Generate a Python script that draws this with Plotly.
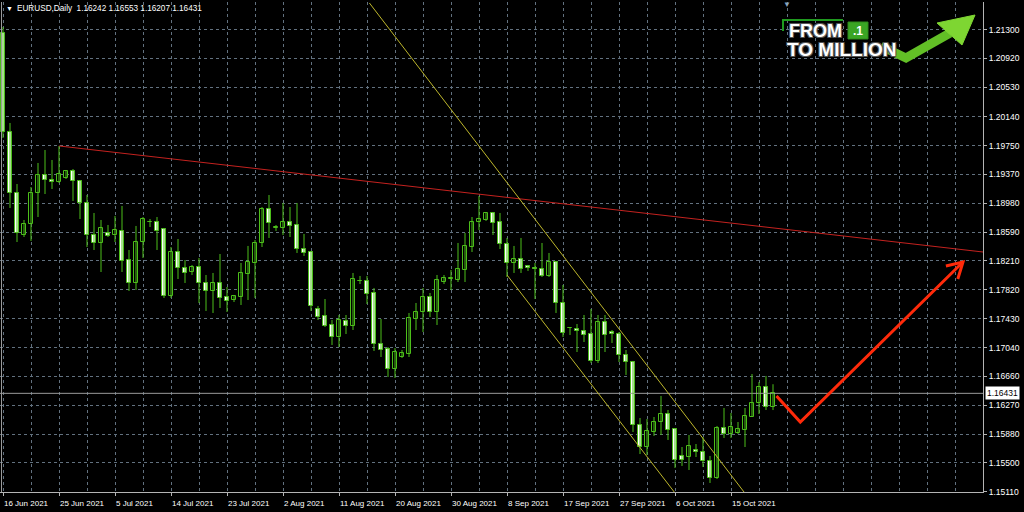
import plotly.graph_objects as go

# ---------------- data (EURUSD, Daily) ----------------
date_labels = ["16 Jun 2021", "25 Jun 2021", "5 Jul 2021", "14 Jul 2021", "23 Jul 2021",
               "2 Aug 2021", "11 Aug 2021", "20 Aug 2021", "30 Aug 2021", "8 Sep 2021",
               "17 Sep 2021", "27 Sep 2021", "6 Oct 2021", "15 Oct 2021"]
date_label_bars = [0, 8, 16, 24, 32, 40, 48, 56, 64, 72, 80, 88, 96, 104]

price_ticks = [1.21300, 1.20920, 1.20530, 1.20140, 1.19750, 1.19370, 1.18980, 1.18590,
               1.18210, 1.17820, 1.17430, 1.17040, 1.16660, 1.16270, 1.15880, 1.15500, 1.15110]

opens = [1.21260, 1.19933, 1.19116, 1.18553, 1.18700, 1.19116, 1.19357, 1.19290, 1.19263, 1.19317,
         1.19411, 1.19277, 1.18982, 1.18553, 1.18446, 1.18580, 1.18553, 1.18607, 1.18218, 1.17910,
         1.18459, 1.18727, 1.18727, 1.18633, 1.17736, 1.18325, 1.18111, 1.18057, 1.18124, 1.17910,
         1.17803, 1.17910, 1.17722, 1.17682, 1.17722, 1.18030, 1.18178, 1.18446, 1.18901, 1.18647,
         1.18647, 1.18727, 1.18687, 1.18365, 1.18325, 1.17561, 1.17468, 1.17347, 1.17186, 1.17401,
         1.17334, 1.17937, 1.17937, 1.17776, 1.17092, 1.17025, 1.16757, 1.16918, 1.16958, 1.17427,
         1.17521, 1.17722, 1.17521, 1.17923, 1.17963, 1.17950, 1.18084, 1.18392, 1.18727, 1.18754,
         1.18848, 1.18727, 1.18432, 1.18178, 1.18231, 1.18138, 1.18111, 1.18097, 1.18004, 1.18191,
         1.17642, 1.17307, 1.17293, 1.17267, 1.17226, 1.16865, 1.17387, 1.17253, 1.17226, 1.16945,
         1.16851, 1.16007, 1.15712, 1.15913, 1.16047, 1.16154, 1.15953, 1.15592, 1.15578, 1.15672,
         1.15645, 1.15525, 1.15297, 1.15967, 1.15886, 1.15900, 1.15940, 1.16114, 1.16302, 1.16516,
         1.16242]
highs = [1.21340, 1.20054, 1.19236, 1.18754, 1.19196, 1.19518, 1.19692, 1.19558, 1.19746, 1.19424,
         1.19437, 1.19290, 1.19089, 1.18848, 1.18754, 1.18687, 1.18808, 1.18942, 1.18352, 1.18674,
         1.18794, 1.18767, 1.18794, 1.18647, 1.18392, 1.18499, 1.18218, 1.18151, 1.18245, 1.18017,
         1.18044, 1.18298, 1.17856, 1.17749, 1.18178, 1.18406, 1.18486, 1.18928, 1.19089, 1.18687,
         1.18982, 1.18928, 1.18982, 1.18566, 1.18339, 1.17602, 1.17695, 1.17414, 1.17481, 1.17481,
         1.18044, 1.18004, 1.18004, 1.17843, 1.17427, 1.17052, 1.17039, 1.17012, 1.17508, 1.17642,
         1.17843, 1.17776, 1.18017, 1.18017, 1.18084, 1.18446, 1.18580, 1.18794, 1.19076, 1.18861,
         1.18861, 1.18848, 1.18513, 1.18406, 1.18513, 1.18140, 1.18178, 1.18446, 1.18312, 1.18205,
         1.17883, 1.17320, 1.17360, 1.17481, 1.17561, 1.17481, 1.17481, 1.17280, 1.17253, 1.17012,
         1.16865, 1.16101, 1.16087, 1.16114, 1.16396, 1.16208, 1.15967, 1.15712, 1.15873, 1.15752,
         1.15846, 1.15592, 1.15994, 1.16235, 1.16168, 1.16047, 1.16235, 1.16690, 1.16583, 1.16664,
         1.16553]
lows = [1.19853, 1.18915, 1.18459, 1.18526, 1.18473, 1.18794, 1.19102, 1.19169, 1.19250, 1.19303,
        1.19009, 1.18767, 1.18392, 1.18352, 1.18057, 1.18526, 1.18459, 1.18057, 1.17803, 1.17816,
        1.18245, 1.18660, 1.18352, 1.17709, 1.17709, 1.17963, 1.17910, 1.18017, 1.17642, 1.17535,
        1.17508, 1.17575, 1.17521, 1.17655, 1.17615, 1.17682, 1.17709, 1.18392, 1.18513, 1.18607,
        1.18553, 1.18526, 1.18312, 1.18272, 1.17535, 1.17414, 1.17320, 1.17079, 1.17052, 1.17226,
        1.17280, 1.17896, 1.17628, 1.16999, 1.16918, 1.16650, 1.16637, 1.16905, 1.16918, 1.17280,
        1.17253, 1.17454, 1.17347, 1.17896, 1.17816, 1.17923, 1.17923, 1.18325, 1.18620, 1.18741,
        1.18553, 1.18365, 1.17990, 1.18044, 1.18044, 1.18071, 1.17695, 1.17990, 1.17990, 1.17508,
        1.17186, 1.17213, 1.16985, 1.17119, 1.16838, 1.16838, 1.16985, 1.17106, 1.16851, 1.16677,
        1.15913, 1.15618, 1.15605, 1.15860, 1.15873, 1.15806, 1.15431, 1.15458, 1.15404, 1.15578,
        1.15444, 1.15230, 1.15283, 1.15833, 1.15833, 1.15886, 1.15712, 1.16114, 1.16154, 1.16208,
        1.16207]
closes = [1.19933, 1.19116, 1.18580, 1.18700, 1.19116, 1.19357, 1.19290, 1.19263, 1.19370, 1.19411,
          1.19277, 1.18982, 1.18553, 1.18446, 1.18647, 1.18540, 1.18620, 1.18205, 1.17910, 1.18459,
          1.18767, 1.18721, 1.18607, 1.17736, 1.18325, 1.18111, 1.18044, 1.18124, 1.17910, 1.17803,
          1.17910, 1.17709, 1.17669, 1.17736, 1.18044, 1.18191, 1.18446, 1.18901, 1.18714, 1.18655,
          1.18727, 1.18674, 1.18365, 1.18312, 1.17602, 1.17454, 1.17334, 1.17186, 1.17414, 1.17334,
          1.17963, 1.17940, 1.17762, 1.17092, 1.17012, 1.16757, 1.16985, 1.16972, 1.17441, 1.17521,
          1.17722, 1.17521, 1.17950, 1.17977, 1.17970, 1.18097, 1.18406, 1.18727, 1.18767, 1.18848,
          1.18714, 1.18432, 1.18178, 1.18231, 1.18097, 1.18111, 1.18091, 1.18004, 1.18191, 1.17642,
          1.17240, 1.17300, 1.17267, 1.17213, 1.16865, 1.17387, 1.17213, 1.17226, 1.16945, 1.16851,
          1.16007, 1.15712, 1.15927, 1.16047, 1.16154, 1.15940, 1.15538, 1.15538, 1.15726, 1.15645,
          1.15525, 1.15297, 1.15967, 1.15886, 1.15980, 1.15953, 1.16128, 1.16302, 1.16516, 1.16248,
          1.16431]

# analyst drawings (bar index, price)
resistance_bars = [8, 140]
resistance_prices = [1.19746, 1.18325]
channel_upper_bars = [52.34, 105.86]
channel_upper_prices = [1.21662, 1.15109]
channel_lower_bars = [72.0, 96.0]
channel_lower_prices = [1.18017, 1.15096]
forecast_bars = [110.5, 113.9, 137.14]
forecast_prices = [1.16396, 1.16047, 1.18191]
arrow_head_bars = [134.7, 137.14, 136.4]
arrow_head_prices = [1.18138, 1.18191, 1.17963]

# ---------------- layout helpers ----------------
W, H = 1024, 512
PL, PR, PT, PB = 0, 983, 2, 492
X_RANGE = [-0.4286, 140.0]
Y_RANGE = [1.15109, 1.21675]


def pxx(v):
    return (v - PL) / (PR - PL)


def pxy(v):
    return (PB - v) / (PB - PT)


GREEN = "#4cbf1a"
GRID = "#62717f"
AXIS = "#b4b4b4"
FONT = "Liberation Sans"

n = len(opens)
idx = list(range(n))

fig = go.Figure()

# current price line
fig.add_trace(go.Scatter(x=[X_RANGE[0], X_RANGE[1]], y=[closes[-1], closes[-1]], mode="lines",
                         line=dict(color="#9a9a9a", width=1), hoverinfo="skip", showlegend=False))

# wicks
wx, wy = [], []
for i in idx:
    wx += [i, i, None]
    wy += [lows[i], highs[i], None]
fig.add_trace(go.Scatter(x=wx, y=wy, mode="lines", line=dict(color=GREEN, width=1),
                         hoverinfo="skip", showlegend=False))

# bodies
bases = [min(o, c) for o, c in zip(opens, closes)]
heights = [max(abs(c - o), 0.00002) for o, c in zip(opens, closes)]
fills = ["white" if c < o else "black" for o, c in zip(opens, closes)]
fig.add_trace(go.Bar(x=idx, y=heights, base=bases, width=0.62,
                     marker=dict(color=fills, line=dict(color=GREEN, width=1)),
                     hoverinfo="skip", showlegend=False))

# trend lines
fig.add_trace(go.Scatter(x=resistance_bars, y=resistance_prices, mode="lines",
                         line=dict(color="#c4221f", width=1), showlegend=False, hoverinfo="skip"))
fig.add_trace(go.Scatter(x=channel_upper_bars, y=channel_upper_prices, mode="lines",
                         line=dict(color="#bdb62c", width=1), showlegend=False, hoverinfo="skip"))
fig.add_trace(go.Scatter(x=channel_lower_bars, y=channel_lower_prices, mode="lines",
                         line=dict(color="#bdb62c", width=1), showlegend=False, hoverinfo="skip"))
# forecast arrow
fig.add_trace(go.Scatter(x=forecast_bars, y=forecast_prices, mode="lines",
                         line=dict(color="#ff2a0a", width=3), showlegend=False, hoverinfo="skip"))
fig.add_trace(go.Scatter(x=arrow_head_bars, y=arrow_head_prices, mode="lines",
                         line=dict(color="#ff2a0a", width=3), showlegend=False, hoverinfo="skip"))

annotations = []
# date labels
for b, t in zip(date_label_bars, date_labels):
    annotations.append(dict(x=b, xref="x", y=pxy(503.5), yref="paper", text=t, showarrow=False,
                            xanchor="left", yanchor="middle", xshift=-1,
                            font=dict(family=FONT, size=8, color="white")))
# last price label on the axis
annotations.append(dict(x=pxx(985), xref="paper", y=closes[-1], yref="y",
                        text=f"{closes[-1]:.5f}", showarrow=False, xanchor="left", yanchor="middle",
                        bgcolor="white", borderpad=1,
                        font=dict(family=FONT, size=8.5, color="black")))
# header
annotations.append(dict(x=pxx(4), xref="paper", y=pxy(8), yref="paper", text="▼", showarrow=False,
                        xanchor="left", yanchor="middle", font=dict(family=FONT, size=7, color="white")))
header = (f"EURUSD,Daily\u00a0\u00a0{opens[-1]:.5f}\u00a0{highs[-1]:.5f}"
          f"\u00a0{lows[-1]:.5f}\u00a0{closes[-1]:.5f}")
annotations.append(dict(x=pxx(15), xref="paper", y=pxy(8), yref="paper", text=header, showarrow=False,
                        xanchor="left", yanchor="middle", font=dict(family=FONT, size=8.2, color="white")))
# shift marker
annotations.append(dict(x=pxx(787), xref="paper", y=pxy(5), yref="paper", text="▼", showarrow=False,
                        xanchor="center", yanchor="middle", font=dict(family=FONT, size=8, color="#8aa5bd")))
# logo text
outline = "-1px -1px 0 #555, 1px -1px 0 #555, -1px 1px 0 #555, 1px 1px 0 #555"
annotations.append(dict(x=pxx(787), xref="paper", y=pxy(31.5), yref="paper", text="FROM", showarrow=False,
                        xanchor="left", yanchor="middle",
                        font=dict(family=FONT, size=18, color="white", weight="bold", shadow=outline)))
annotations.append(dict(x=pxx(785), xref="paper", y=pxy(50), yref="paper", text="TO MILLION",
                        showarrow=False, xanchor="left", yanchor="middle",
                        font=dict(family=FONT, size=19, color="white", weight="bold", shadow=outline)))
annotations.append(dict(x=pxx(858), xref="paper", y=pxy(30.5), yref="paper", text=".1", showarrow=False,
                        xanchor="center", yanchor="middle",
                        font=dict(family=FONT, size=12, color="white", weight="bold")))

shapes = [
    # left border
    dict(type="line", xref="paper", yref="paper", x0=pxx(1.5), x1=pxx(1.5), y0=0, y1=1,
         line=dict(color="#9a9a9a", width=1)),
    # logo bracket
    dict(type="path", xref="paper", yref="paper",
         path=f"M {pxx(783)},{pxy(31)} L {pxx(783)},{pxy(20)} L {pxx(843)},{pxy(20)}",
         line=dict(color="#1f9a1f", width=2)),
    # logo green box
    dict(type="rect", xref="paper", yref="paper", x0=pxx(848), x1=pxx(868), y0=pxy(39), y1=pxy(22),
         fillcolor="#3aa524", line=dict(color="#2c8a1a", width=1)),
    # logo arrow shaft
    dict(type="path", xref="paper", yref="paper",
         path=f"M {pxx(881)},{pxy(46)} L {pxx(906)},{pxy(58)} L {pxx(950)},{pxy(33)}",
         line=dict(color="#62bf26", width=9)),
    # logo arrow head
    dict(type="path", xref="paper", yref="paper",
         path=f"M {pxx(975)},{pxy(15)} L {pxx(937)},{pxy(23)} L {pxx(962)},{pxy(45)} Z",
         fillcolor="#7ed632", line=dict(color="#7ed632", width=1)),
]

fig.update_layout(
    width=W, height=H,
    margin=dict(l=PL, r=W - PR, t=PT, b=H - PB, pad=0),
    paper_bgcolor="black", plot_bgcolor="black",
    barmode="overlay", bargap=0, showlegend=False,
    annotations=annotations, shapes=shapes,
    xaxis=dict(range=X_RANGE, showticklabels=False, tickmode="array", tickvals=date_label_bars,
               ticks="outside", ticklen=3, tickcolor=AXIS,
               showgrid=True, gridcolor=GRID, griddash="3px,3px", gridwidth=1,
               minor=dict(tickmode="linear", tick0=0, dtick=4, showgrid=True, gridcolor=GRID,
                          griddash="3px,3px", ticks=""),
               showline=True, linecolor=AXIS, linewidth=1, zeroline=False, fixedrange=True),
    yaxis=dict(range=Y_RANGE, side="right", tickmode="array", tickvals=price_ticks,
               ticktext=[f"{v:.5f}" for v in price_ticks],
               tickfont=dict(family=FONT, size=8.5, color="white"),
               ticks="outside", ticklen=3, tickcolor=AXIS,
               showgrid=True, gridcolor=GRID, griddash="3px,3px", gridwidth=1,
               showline=True, linecolor=AXIS, linewidth=1, zeroline=False, fixedrange=True),
)

fig.write_html("out.html", config={"displayModeBar": False},
               post_script="document.body.style.margin='0';document.body.style.background='black';")
